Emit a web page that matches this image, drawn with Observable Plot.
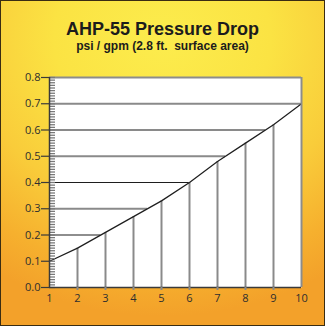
<!DOCTYPE html>
<html>
<head>
<meta charset="utf-8">
<script src="https://cdn.jsdelivr.net/npm/d3@7"></script>
<script src="https://cdn.jsdelivr.net/npm/@observablehq/plot@0.6"></script>
<style>
  html, body { margin: 0; padding: 0; }
  #card {
    position: relative;
    width: 325px;
    height: 326px;
    overflow: hidden;
    background: radial-gradient(ellipse 95% 85% at 50% 12%, #fcec4d 0%, #fbe343 35%, #f9cc3a 62%, #f6b02e 85%, #f3a12a 100%);
    box-shadow: inset 0 0 0 1px #3a2c12;
  }
  .title, .subtitle {
    position: absolute;
    left: 0;
    width: 325px;
    text-align: center;
    font-family: "Liberation Sans", Arial, sans-serif;
    font-weight: bold;
    color: #1c1c1c;
    white-space: pre;
  }
  .title { top: 20px; font-size: 18px; line-height: 18px; }
  .subtitle { top: 40px; font-size: 12px; line-height: 12px; }
  #chart { position: absolute; left: 0; top: 60px; }
</style>
</head>
<body>
<div id="card">
  <div class="title">AHP-55 Pressure Drop</div>
  <div class="subtitle">psi / gpm (2.8 ft.  surface area)</div>
  <div id="chart"></div>
</div>
<script>
// Flow rate (gpm) and pressure drop (psi)
const gpm = [1, 2, 3, 4, 5, 6, 7, 8, 9, 10];
const psi = [0.10, 0.15, 0.21, 0.27, 0.33, 0.40, 0.48, 0.55, 0.62, 0.70];

// Axis ticks
const xTicks = [1, 2, 3, 4, 5, 6, 7, 8, 9, 10];
const yTicks = [0.0, 0.1, 0.2, 0.3, 0.4, 0.5, 0.6, 0.7, 0.8];
const yMinorTicks = d3.range(0, 81).map(i => i / 100);

// Horizontal guide levels, each running from the y axis to the curve
const guideLevels = [0.2, 0.3, 0.4, 0.5, 0.6, 0.7];
const darkLevels = [0.2, 0.4];

const points = gpm.map((g, i) => ({gpm: g, psi: psi[i]}));

// flow at which the curve reaches a given pressure drop (linear interpolation)
function flowAt(v) {
  for (let i = 1; i < points.length; i++) {
    const a = points[i - 1], b = points[i];
    if (v <= b.psi) return a.gpm + (v - a.psi) / (b.psi - a.psi) * (b.gpm - a.gpm);
  }
  return points[points.length - 1].gpm;
}

const guides = guideLevels.map(v => ({level: v, end: flowAt(v), dark: darkLevels.includes(v)}));
const drops = points.filter(d => d.gpm > 1 && d.gpm < 10);

const chart = Plot.plot({
  width: 325,
  height: 266,
  marginLeft: 49,
  marginRight: 24,
  marginTop: 17,
  marginBottom: 39,
  style: {background: "transparent", fontFamily: "'Open Sans', sans-serif", fontSize: "11px", color: "#2e2e2e"},
  x: {domain: [1, 10], label: null},
  y: {domain: [0, 0.8], label: null},
  marks: [
    Plot.frame({fill: "white", stroke: null}),
    // horizontal guides
    Plot.ruleY(guides.filter(d => !d.dark), {y: "level", x1: 1, x2: "end", stroke: "#8a8a8a", strokeWidth: 2}),
    Plot.ruleY(guides.filter(d => d.dark), {y: "level", x1: 1, x2: "end", stroke: "#1e1e1e", strokeWidth: 1.2}),
    // vertical drops from the curve to the x axis
    Plot.ruleX(drops, {x: "gpm", y1: 0, y2: "psi", stroke: "#8a8a8a", strokeWidth: 2}),
    // pressure drop curve
    Plot.line(points, {x: "gpm", y: "psi", stroke: "#1e1e1e", strokeWidth: 1.2}),
    // top and right border
    Plot.ruleY([0.8], {stroke: "#8c8c8c", strokeWidth: 2}),
    Plot.ruleX([10], {stroke: "#8c8c8c", strokeWidth: 2}),
    // minor ticks inside the y axis
    Plot.axisY(yMinorTicks, {tickSize: -6, text: null, stroke: "#7a7a7a", strokeWidth: 1.3}),
    // axis lines
    Plot.ruleX([1], {stroke: "#3a3a3a", strokeWidth: 1.5}),
    Plot.ruleY([0], {stroke: "#3a3a3a", strokeWidth: 1.5}),
    // y labels and major ticks
    Plot.axisY(yTicks, {tickSize: 8, tickPadding: 1, tickFormat: d3.format(".1f"), stroke: "#3a3a3a", strokeWidth: 1.2}),
    // small ticks under the drop lines, and the x labels
    Plot.axisX(xTicks.slice(1, 9), {tickSize: 3, text: null, stroke: "#8a8a8a", strokeWidth: 2}),
    Plot.axisX(xTicks, {tickSize: 0, tickPadding: 7})
  ]
});

document.getElementById("chart").appendChild(chart);
</script>
</body>
</html>
